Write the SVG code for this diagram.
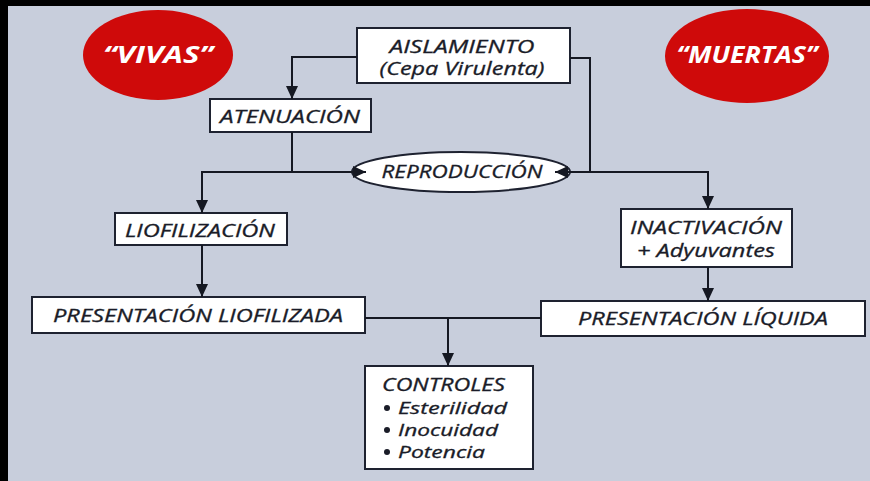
<svg xmlns="http://www.w3.org/2000/svg" width="870" height="481" viewBox="0 0 870 481">
<defs>
<style>
.bg{fill:#c8cedc}
.frame{fill:#000}
.box{fill:#fff;stroke:#1e2230;stroke-width:2}
.red{fill:#cf0a0a}
.t{font-family:"Open Sans","DejaVu Sans",sans-serif;font-style:italic;font-size:18px;fill:#1a1c28;stroke:#1a1c28;stroke-width:0.3}
.s{font-size:16px}
.w{font-family:"Open Sans","DejaVu Sans",sans-serif;font-style:italic;font-weight:bold;font-size:24px;fill:#fff}
.b{fill:#1a1c28}
.c{fill:none;stroke:#151822;stroke-width:2}
</style>
<marker id="ah" markerUnits="userSpaceOnUse" markerWidth="14" markerHeight="12" refX="13" refY="6" orient="auto">
<path d="M0,0 L13,6 L0,12 Z" fill="#151822"/>
</marker>
</defs>
<rect class="bg" x="0" y="0" width="870" height="481"/>
<rect class="frame" x="0" y="0" width="8" height="481"/>
<rect class="frame" x="0" y="0" width="870" height="6"/>

<g id="vivas">
<ellipse class="red" cx="158" cy="55" rx="75" ry="45"/>
<text class="w" x="158" y="63" text-anchor="middle" textLength="110" lengthAdjust="spacingAndGlyphs">“VIVAS”</text>
</g>
<g id="muertas">
<ellipse class="red" cx="747" cy="56" rx="82" ry="47"/>
<text class="w" x="747" y="63" text-anchor="middle" textLength="141" lengthAdjust="spacingAndGlyphs">“MUERTAS”</text>
</g>

<g id="aislamiento">
<rect class="box" x="357" y="28" width="213" height="55"/>
<text class="t" x="462" y="53" text-anchor="middle" textLength="145" lengthAdjust="spacingAndGlyphs">AISLAMIENTO</text>
<text class="t" x="462" y="75" text-anchor="middle" textLength="165" lengthAdjust="spacingAndGlyphs">(Cepa Virulenta)</text>
</g>
<g id="atenuacion">
<rect class="box" x="210" y="99" width="161" height="33"/>
<text class="t" x="290" y="123" text-anchor="middle" textLength="140" lengthAdjust="spacingAndGlyphs">ATENUACIÓN</text>
</g>
<g id="reproduccion">
<ellipse class="box" cx="461" cy="172" rx="109" ry="20"/>
<text class="t" x="462" y="178" text-anchor="middle" textLength="161" lengthAdjust="spacingAndGlyphs">REPRODUCCIÓN</text>
</g>
<g id="liofilizacion">
<rect class="box" x="115" y="213" width="172" height="32"/>
<text class="t" x="200" y="237" text-anchor="middle" textLength="150" lengthAdjust="spacingAndGlyphs">LIOFILIZACIÓN</text>
</g>
<g id="inactivacion">
<rect class="box" x="621" y="209" width="171" height="58"/>
<text class="t" x="706" y="234" text-anchor="middle" textLength="152" lengthAdjust="spacingAndGlyphs">INACTIVACIÓN</text>
<text class="t" x="706" y="257" text-anchor="middle" textLength="138" lengthAdjust="spacingAndGlyphs">+ Adyuvantes</text>
</g>
<g id="pres-liofilizada">
<rect class="box" x="32" y="297" width="333" height="36"/>
<text class="t" x="198" y="322" text-anchor="middle" textLength="290" lengthAdjust="spacingAndGlyphs">PRESENTACIÓN LIOFILIZADA</text>
</g>
<g id="pres-liquida">
<rect class="box" x="541" y="301" width="324" height="35"/>
<text class="t" x="703" y="325" text-anchor="middle" textLength="250" lengthAdjust="spacingAndGlyphs">PRESENTACIÓN LÍQUIDA</text>
</g>
<g id="controles">
<rect class="box" x="365" y="366" width="168" height="103"/>
<text class="t" x="382" y="391" textLength="123" lengthAdjust="spacingAndGlyphs">CONTROLES</text>
<circle class="b" cx="387" cy="408" r="3"/>
<circle class="b" cx="387" cy="430" r="3"/>
<circle class="b" cx="387" cy="452" r="3"/>
<text class="t s" x="398" y="414" textLength="109" lengthAdjust="spacingAndGlyphs">Esterilidad</text>
<text class="t s" x="398" y="436" textLength="100" lengthAdjust="spacingAndGlyphs">Inocuidad</text>
<text class="t s" x="398" y="458" textLength="87" lengthAdjust="spacingAndGlyphs">Potencia</text>
</g>

<g id="connectors">
<path class="c" d="M357,57 H292 V99" marker-end="url(#ah)"/>
<path class="c" d="M292,132 V172 H202 V213" marker-end="url(#ah)"/>
<path class="c" d="M292,172 H366" marker-end="url(#ah)"/>
<path class="c" d="M570,58 H590 V172 H708 V209" marker-end="url(#ah)"/>
<path class="c" d="M590,172 H555" marker-end="url(#ah)"/>
<path class="c" d="M202,245 V297" marker-end="url(#ah)"/>
<path class="c" d="M708,267 V301" marker-end="url(#ah)"/>
<path class="c" d="M365,318 H541"/>
<path class="c" d="M448,318 V366" marker-end="url(#ah)"/>
</g>
</svg>
